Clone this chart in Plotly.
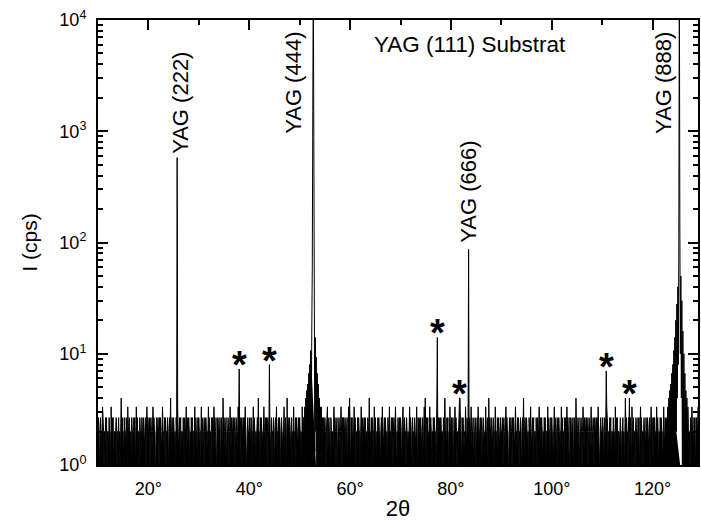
import numpy as np
import plotly.graph_objects as go

# ---------------- data ----------------
scan_start = 10.0      # deg 2theta
scan_step = 0.1        # deg
scan_end = 129.0       # deg
count_time = 1.5       # s per step  (cps = counts / count_time)

# background counts per step, 10 deg per string
background_counts = [
    "3431342335431324341332433153434133234313342313634331433243153342313433243413534231343324334323413534",
    "3341343235343312433431434323533243413343134362343343231433532343413324314335234343132434133352433143",
    "4313352343134343233534231434335343214343334134326343234133431353243343431343235323431433434353213433",
    "3432413353431323436331434323353243413433532341334313435233434313432335234316343343234133533143432343",
    "4323153433341324335313434323363243413343531324343343134523433143232353431341334323531434334323413536",
    "3143423353431324343313532433434323143363324341335343132434331343532343432314335332434134335313243343",
    "4313452343314323235343134133432353143433432341353631434233534313243433135324334343231433633243413353",
    "3432413353431323436331434323353243413433532341334313435233434313432335234316343343234133533143432343",
    "3341343235343312433431434323533243413343134362343343231433532343413324314335234343132434133352433143",
    "4313352343134343233534231434335343214343334134326343234133431353243343431343235323431433434353213433",
    "3431342335431324341332433153434133234313342313634331433243153342313433243413534231343324334323413534",
    "3143423353431324343313532433434323143363324341335343132434331343532343432314335332434134335313243343",
    "4313452343314323235343134133432353143433",
]

# sharp reflections (single-step peaks)
peak_angles = [25.7, 38.0, 44.0, 77.3, 81.7, 83.5, 110.8, 115.4]
peak_cps = [580.0, 7.3, 8.0, 14.0, 4.0, 87.0, 7.0, 4.0]

# substrate reflections with broad feet (one value per step)
hump444_start = 50.8
hump444_cps = [2.67, 1.33, 3.33, 0.67, 4.0, 1.33, 4.67, 2.0, 5.33, 1.33,
               6.67, 2.0, 8.0, 1.33, 10.7, 2.0, 16.0, 60.0, 1500.0, 30000.0,
               900.0, 40.0, 1.33, 14.0, 2.0, 9.33, 0.67, 6.67, 1.33, 5.33,
               2.0, 4.0, 1.33, 3.33, 0.67, 3.33, 1.33, 2.67]
hump888_start = 123.0
hump888_cps = [3.33, 1.33, 4.0, 0.67, 4.67, 2.0, 5.33, 1.33, 6.67, 2.0,
               8.0, 1.33, 10.7, 2.0, 14.0, 1.33, 20.0, 2.0, 28.0, 4.0,
               40.0, 8.0, 120.0, 30000.0, 150.0, 10.0, 50.0, 4.0, 30.0, 0.67,
               16.0, 1.33, 10.0, 0.67, 6.67, 1.33, 4.67, 2.0, 4.0, 1.33, 3.33]
# 2theta windows right under the substrate peaks where the signal never drops to the floor
no_floor_windows = [(52.3, 53.3), (124.8, 125.8)]

star_angles = [38.0, 44.0, 77.3, 81.7, 110.8, 115.4]

reflection_labels = ["YAG (222)", "YAG (444)", "YAG (666)", "YAG (888)"]
substrate_label = "YAG (111) Substrat"

x_tick_vals = [20, 40, 60, 80, 100, 120]
x_tick_text = ["20°", "40°", "60°", "80°", "100°", "120°"]
y_tick_vals = [1, 10, 100, 1000, 10000]
y_tick_text = ["10<sup>0</sup>", "10<sup>1</sup>", "10<sup>2</sup>", "10<sup>3</sup>", "10<sup>4</sup>"]

# ---------------- build the scan ----------------
n_points = int(round((scan_end - scan_start) / scan_step)) + 1
counts = np.array([int(c) for c in "".join(background_counts)][:n_points], dtype=float)
two_theta = scan_start + scan_step * np.arange(len(counts))
cps = counts / count_time

def idx(angle):
    return int(round((angle - scan_start) / scan_step))

for start, vals in ((hump444_start, hump444_cps), (hump888_start, hump888_cps)):
    i0 = idx(start)
    cps[i0:i0 + len(vals)] = vals
for a, v in zip(peak_angles, peak_cps):
    cps[idx(a)] = v

# dense-plot look: the area under the trace reads as solid black (except the no-floor windows)
cps_fill = cps.copy()
for lo, hi in no_floor_windows:
    cps_fill[idx(lo):idx(hi) + 1] = np.nan

FONT = "Liberation Sans, Arial, sans-serif"

fig = go.Figure()
fig.add_trace(go.Scatter(x=two_theta, y=cps_fill, mode="lines", fill="tozeroy",
                         fillcolor="black", line=dict(color="black", width=0, simplify=False),
                         connectgaps=False, hoverinfo="skip", showlegend=False))
fig.add_trace(go.Scatter(x=two_theta, y=cps, mode="lines",
                         line=dict(color="black", width=1, simplify=False),
                         hoverinfo="skip", showlegend=False))

annotations = []
# rotated reflection labels
label_pos = [(26.2, 0.694), (48.9, 0.74), (83.5, 0.494), (122.1, 0.74)]
for text, (ax, ay) in zip(reflection_labels, label_pos):
    annotations.append(dict(x=ax, y=ay, xref="x", yref="paper", text=text,
                            textangle=-90, showarrow=False, xanchor="center",
                            yanchor="bottom", font=dict(family=FONT, size=22, color="black")))
annotations.append(dict(x=0.62, y=0.944, xref="paper", yref="paper", text=substrate_label,
                        showarrow=False, xanchor="center", yanchor="middle",
                        font=dict(family=FONT, size=22.5, color="black")))
# impurity stars
for a in star_angles:
    v = peak_cps[peak_angles.index(a)]
    annotations.append(dict(x=a, y=np.log10(v), xref="x", yref="y", text="<b>*</b>",
                            showarrow=False, xanchor="center", yanchor="bottom", yshift=-19,
                            font=dict(family=FONT, size=38, color="black")))

fig.update_layout(
    width=701, height=525,
    margin=dict(l=98, r=1, t=20, b=60),
    paper_bgcolor="white", plot_bgcolor="white",
    font=dict(family=FONT, size=18, color="black"),
    annotations=annotations,
    xaxis=dict(range=[scan_start, scan_end], tickvals=x_tick_vals, ticktext=x_tick_text,
               ticks="inside", ticklen=10, tickwidth=1.5, tickcolor="black",
               minor=dict(tickvals=[10, 30, 50, 70, 90, 110], ticks="inside", ticklen=5,
                          tickwidth=1.5, tickcolor="black"),
               showline=True, linewidth=2, linecolor="black", mirror="ticks",
               showgrid=False, zeroline=False, ticklabelstandoff=6,
               tickfont=dict(size=18),
               title=dict(text="2θ", font=dict(size=22), standoff=3)),
    yaxis=dict(type="log", range=[0, 4], tickvals=y_tick_vals, ticktext=y_tick_text,
               ticks="inside", ticklen=10, tickwidth=1.5, tickcolor="black",
               minor=dict(tickvals=[m * 10 ** d for d in range(4) for m in range(2, 10)],
                          ticks="inside", ticklen=5, tickwidth=1.5, tickcolor="black"),
               showline=True, linewidth=2, linecolor="black", mirror="ticks",
               showgrid=False, zeroline=False, ticklabelstandoff=6,
               tickfont=dict(size=18),
               title=dict(text="I (cps)", font=dict(size=21), standoff=16)),
)

fig.write_html("out.html", config={"displayModeBar": False})
